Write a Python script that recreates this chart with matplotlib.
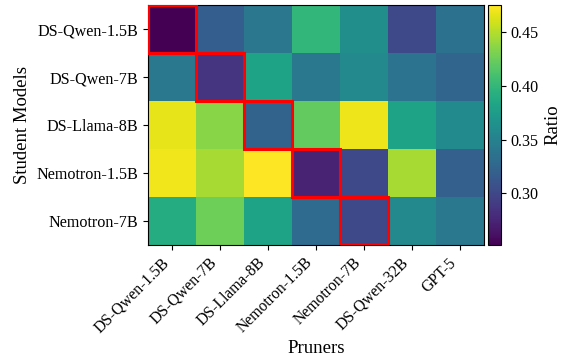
import matplotlib
matplotlib.use("Agg")
import matplotlib.pyplot as plt
from matplotlib.patches import Rectangle
import numpy as np

plt.rcParams['font.family'] = ['Liberation Serif', 'DejaVu Serif']

students = ["DS-Qwen-1.5B", "DS-Qwen-7B", "DS-Llama-8B", "Nemotron-1.5B", "Nemotron-7B"]
pruners = ["DS-Qwen-1.5B", "DS-Qwen-7B", "DS-Llama-8B", "Nemotron-1.5B",
           "Nemotron-7B", "DS-Qwen-32B", "GPT-5"]

# ratio values, rows = students, cols = pruners
ratio = np.array([
    [0.252, 0.319, 0.340, 0.400, 0.362, 0.301, 0.335],
    [0.341, 0.286, 0.381, 0.341, 0.357, 0.337, 0.325],
    [0.467, 0.435, 0.323, 0.421, 0.469, 0.381, 0.359],
    [0.470, 0.446, 0.475, 0.274, 0.301, 0.446, 0.320],
    [0.390, 0.426, 0.381, 0.330, 0.301, 0.357, 0.341],
])

fig = plt.figure(figsize=(5.64, 3.61), dpi=100)
ax = fig.add_axes([148/564, 1 - 245/361, 336/564, 240/361])
cax = fig.add_axes([488/564, 1 - 245/361, 13/564, 240/361])

im = ax.imshow(ratio, cmap='viridis', aspect='auto')

# highlight self-pruned cells
for i in range(len(students)):
    ax.add_patch(Rectangle((i - 0.5, i - 0.5), 1, 1, fill=False,
                           edgecolor='red', linewidth=2.2, zorder=3))

ax.set_xticks(range(len(pruners)))
ax.set_xticklabels(pruners, rotation=45, ha='right', fontsize=11.3)
ax.set_yticks(range(len(students)))
ax.set_yticklabels(students, fontsize=11.6)
ax.set_xlabel("Pruners", fontsize=13.5, labelpad=3)
ax.set_ylabel("Student Models", fontsize=13.5)

cb = fig.colorbar(im, cax=cax)
cb.set_ticks([0.30, 0.35, 0.40, 0.45])
cb.ax.tick_params(labelsize=11.6)
cb.set_label("Ratio", fontsize=13.5)

fig.savefig("out.png", dpi=100)
